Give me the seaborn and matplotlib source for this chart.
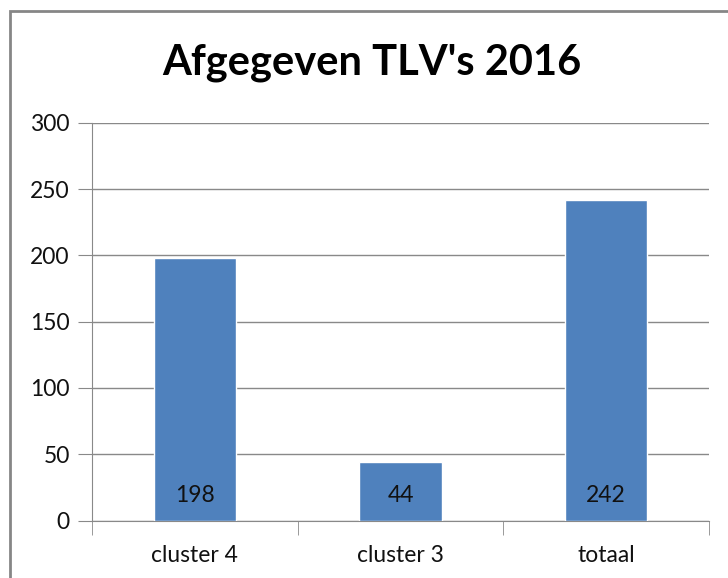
import matplotlib
matplotlib.use('Agg')
import matplotlib.pyplot as plt
import matplotlib.patches as patches
import seaborn as sns
import pandas as pd

# data
categories = ['cluster 4', 'cluster 3', 'totaal']
values = [198, 44, 242]
df = pd.DataFrame({'cat': categories, 'val': values})

sns.set_style('white')
plt.rcParams['font.family'] = ['Lato', 'DejaVu Sans']

fig = plt.figure(figsize=(7.28, 5.78), dpi=100)
ax = fig.add_axes([92/728, 1 - 520.5/578, (709 - 92)/728, (520.5 - 123)/578])

sns.barplot(data=df, x='cat', y='val', color='#4F81BD', saturation=1,
            width=0.4, ax=ax, zorder=3)

ax.set_ylim(0, 300)
ax.set_xlim(-0.5, 2.5)
ax.set_yticks(range(0, 301, 50))
ax.yaxis.grid(True, color='#898989', lw=1, zorder=0)
ax.set_xlabel('')
ax.set_ylabel('')

for s in ['top', 'right']:
    ax.spines[s].set_visible(False)
ax.spines['left'].set_color('#898989')
ax.spines['bottom'].set_color('#898989')

# ticks: y outward, x at category boundaries
ax.tick_params(axis='y', length=10, color='#898989', labelsize=16.5, pad=6,
               left=True, labelcolor='#111111')
ax.set_xticks(range(len(categories)))
ax.set_xticklabels(categories)
ax.tick_params(axis='x', length=0, labelsize=16.5, pad=18, labelcolor='#111111')
ax.set_xticks([-0.5, 0.5, 1.5, 2.5], minor=True)
ax.tick_params(axis='x', which='minor', length=10, color='#898989', bottom=True)

# value labels at the bottom of each bar
for i, v in enumerate(values):
    ax.annotate(str(v), (i, 0), xytext=(0, 18), textcoords='offset points',
                ha='center', va='center', fontsize=16.5, color='#111111', zorder=4)

fig.text(372/728, 1 - 63/578, "Afgegeven TLV's 2016", ha='center', va='center',
         fontsize=30, fontweight='bold', color='black')

# chart frame
frame = patches.Rectangle((10/728, -0.05), 1.0, 1 - 11/578 + 0.05,
                          transform=fig.transFigure, fill=False,
                          edgecolor='#868686', lw=2, clip_on=False)
fig.patches.append(frame)

fig.savefig('out.png', dpi=100)
